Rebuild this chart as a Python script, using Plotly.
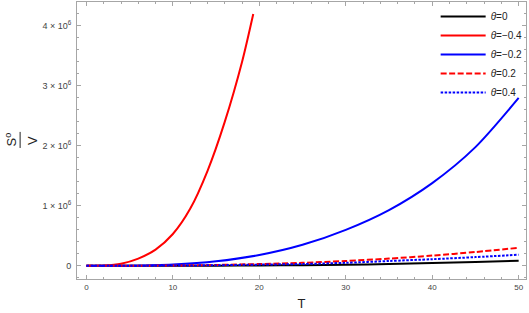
import plotly.graph_objects as go

# ---- data (S^o/V in units of 10^6) ----
T_red = [0, 2, 4, 6, 8, 10, 12, 14, 16, 18, 19.3]
S_red = [0, 0.005, 0.035, 0.12, 0.27, 0.53, 0.95, 1.58, 2.4, 3.4, 4.2]

T_grid = [0, 5, 10, 15, 20, 25, 30, 35, 40, 45, 50]
S_black = [0, 0.0002, 0.001, 0.003, 0.006, 0.01, 0.018, 0.03, 0.045, 0.063, 0.085]
S_blue = [0, 0.003, 0.022, 0.075, 0.18, 0.35, 0.6, 0.93, 1.38, 1.98, 2.8]
S_reddash = [0, 0.001, 0.005, 0.014, 0.03, 0.05, 0.08, 0.12, 0.17, 0.23, 0.30]
S_bluedot = [0, 0.001, 0.004, 0.01, 0.02, 0.03, 0.05, 0.08, 0.11, 0.145, 0.185]

names = ["<i>θ</i>=0", "<i>θ</i>=−0.4", "<i>θ</i>=−0.2", "<i>θ</i>=0.2", "<i>θ</i>=0.4"]

x_ticks = [0, 10, 20, 30, 40, 50]
y_ticks = [0, 1e6, 2e6, 3e6, 4e6]
y_ticktext = ["0", "1\u00a0×\u00a010<sup>6</sup>", "2\u00a0×\u00a010<sup>6</sup>",
              "3\u00a0×\u00a010<sup>6</sup>", "4\u00a0×\u00a010<sup>6</sup>"]

M = 1e6
FONT = "Liberation Sans, Arial, sans-serif"
FRAME = "#a6a6a6"
LABEL = "#444444"

series = [
    (T_grid, S_black, names[0], dict(color="black", width=2)),
    (T_red, S_red, names[1], dict(color="#ff0000", width=2)),
    (T_grid, S_blue, names[2], dict(color="#0000ff", width=2)),
    (T_grid, S_reddash, names[3], dict(color="#ff0000", width=2, dash="6px,2.5px")),
    (T_grid, S_bluedot, names[4], dict(color="#0000ff", width=2, dash="2.5px,1.5px")),
]

fig = go.Figure()
for i, (xs, ys, nm, ln) in enumerate(series):
    fig.add_trace(go.Scatter(
        x=xs, y=[v * M for v in ys], mode="lines", name=nm,
        line=dict(shape="spline", smoothing=0.8, **ln),
        legendgroup=str(i),
    ))

axis_common = dict(
    showline=True, linecolor=FRAME, linewidth=1, mirror="allticks",
    ticks="inside", tickcolor=FRAME, ticklen=4, tickwidth=1,
    showgrid=False, zeroline=False,
)

fig.update_layout(
    width=529, height=313,
    margin=dict(l=77, r=2, t=2, b=34),
    plot_bgcolor="white", paper_bgcolor="white",
    font=dict(family=FONT, color=LABEL),
    showlegend=True,
    legend=dict(
        x=0.797, y=1.0, xanchor="left", yanchor="top",
        bgcolor="rgba(0,0,0,0)", font=dict(family=FONT, size=10, color="#222222"),
        itemwidth=45, tracegroupgap=0,
    ),
    xaxis=dict(
        range=[-1.09, 50.85], tickvals=x_ticks,
        tickfont=dict(family=FONT, size=8, color=LABEL),
        minor=dict(dtick=2, ticks="inside", ticklen=2, tickcolor=FRAME),
        title=dict(text="T", font=dict(family=FONT, size=13, color="#222222"), standoff=8),
        **axis_common,
    ),
    yaxis=dict(
        range=[-0.22 * M, 4.40 * M], tickvals=y_ticks, ticktext=y_ticktext,
        tickfont=dict(family=FONT, size=9, color=LABEL), ticklabelstandoff=3,
        minor=dict(dtick=0.2 * M, ticks="inside", ticklen=2, tickcolor=FRAME),
        **axis_common,
    ),
)

# rotated fraction S^o / V as the y-axis title
fig.add_annotation(text="S<sup>o</sup>", xref="paper", yref="paper", x=-0.148, y=0.502,
                   showarrow=False, textangle=-90, xanchor="center", yanchor="middle",
                   font=dict(family=FONT, size=13, color="#222222"))
fig.add_annotation(text="V", xref="paper", yref="paper", x=-0.098, y=0.502,
                   showarrow=False, textangle=-90, xanchor="center", yanchor="middle",
                   font=dict(family=FONT, size=13, color="#222222"))
fig.add_shape(type="line", xref="paper", yref="paper", x0=-0.1267, x1=-0.1267, y0=0.473, y1=0.531,
              line=dict(color="#222222", width=1))

fig.write_html("out.html", config={"displayModeBar": False},
               post_script="document.body.style.margin='0';document.body.style.overflow='hidden';")
